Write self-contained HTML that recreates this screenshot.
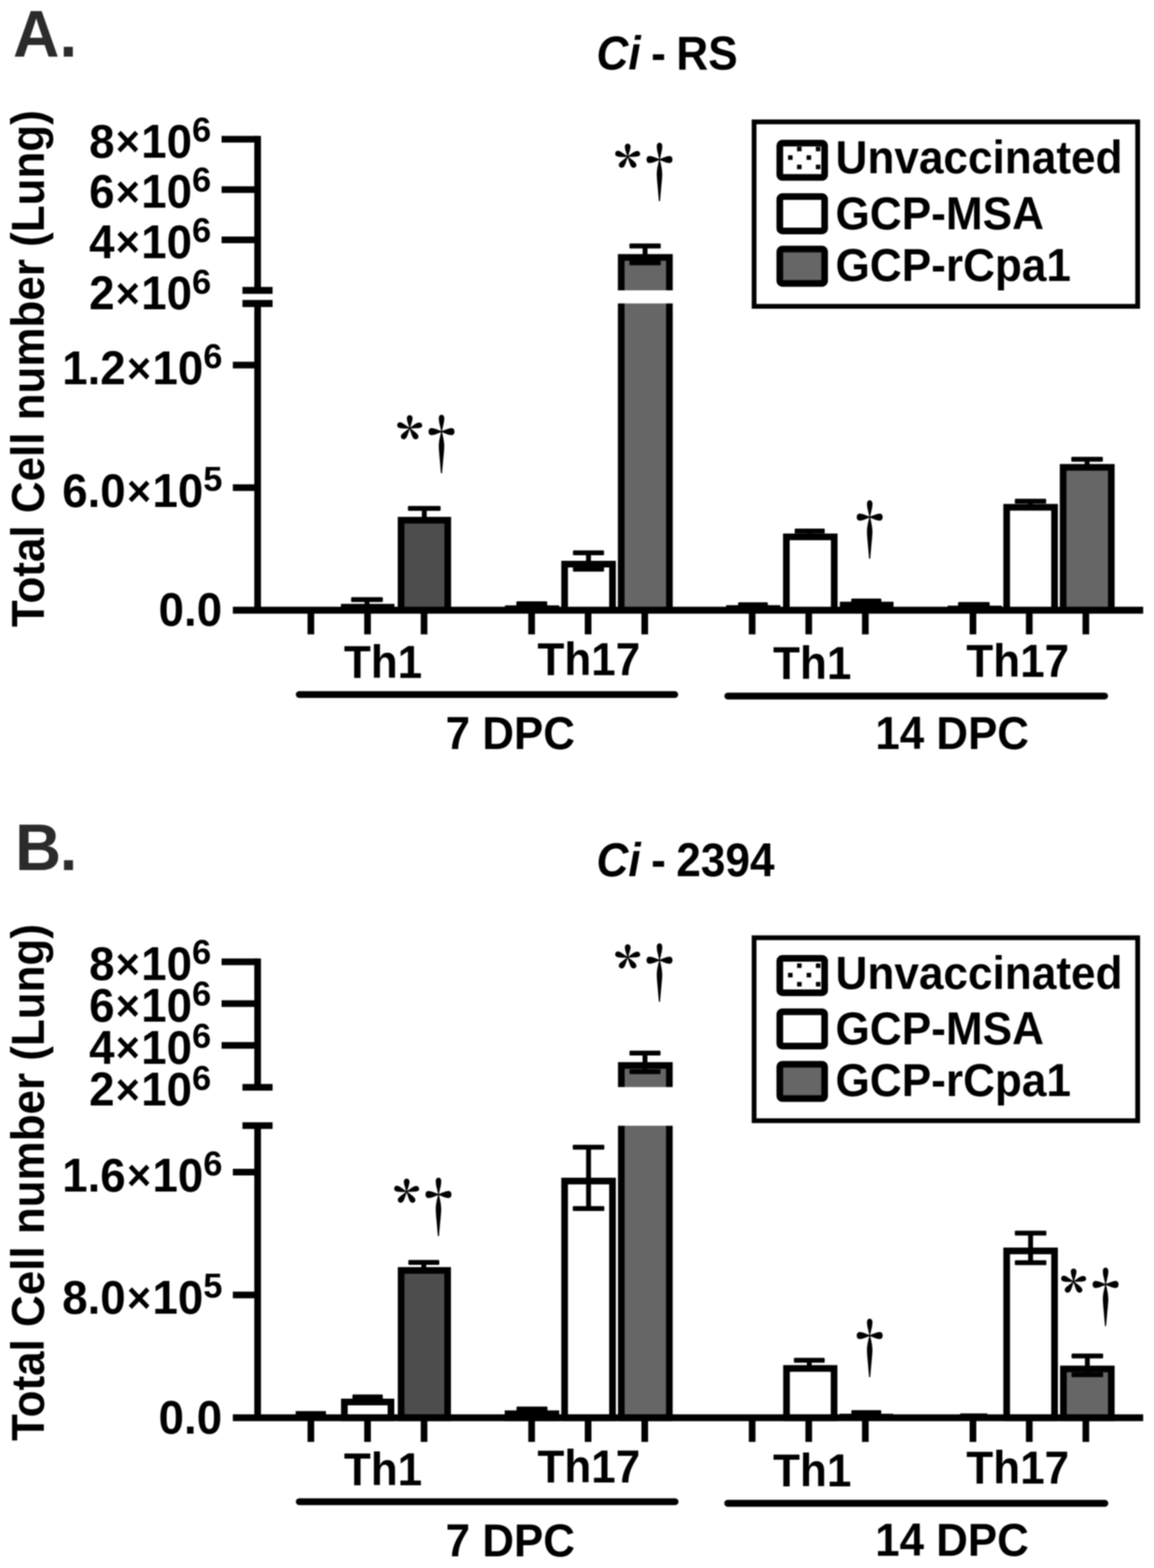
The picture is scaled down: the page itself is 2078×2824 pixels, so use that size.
<!DOCTYPE html>
<html lang="en">
<head>
<meta charset="utf-8">
<title>Total Cell number (Lung): Th1 and Th17, Ci - RS and Ci - 2394</title>
<style>
html,body{margin:0;padding:0;background:#fff;}
body{width:2078px;height:2824px;overflow:hidden;}
svg{display:block;filter:blur(0.8px);}
text{white-space:pre;fill:#000;}
text.b{font-family:"Liberation Sans",sans-serif;font-weight:bold;}
text.s{font-family:"Noto Serif CJK SC","Liberation Serif",serif;font-weight:900;}
text.d{font-weight:500;}
line{stroke:#000;}
</style>
</head>
<body>
<svg width="2078" height="2824" viewBox="0 0 2078 2824" role="img" aria-label="Bar charts of total Th1 and Th17 cell numbers in lung at 7 and 14 DPC">
<rect x="0" y="0" width="2078" height="2824" fill="#fff"/>
<g id="panel-a">
<text class="b" transform="translate(23.6 101.6) scale(1.01 1.04)" font-size="114.5" style="fill:#2b2b2b">A.</text>
<text class="b" transform="translate(1073.9 124.5) scale(1 1.07)" font-size="79.6" word-spacing="-3.2"><tspan font-style="italic">Ci</tspan> - RS</text>
<text class="b" transform="translate(78.6 664) rotate(-90) scale(1 1.05)" font-size="79.2" text-anchor="middle">Total Cell number (Lung)</text>
<rect x="632.3" y="1075.5" width="57.1" height="8.8" fill="#000" rx="1.5"/>
<rect x="656.45" y="1079.9" width="8.8" height="9.7" fill="#000"/>
<rect x="734.6" y="911.3" width="58.8" height="8.8" fill="#000" rx="1.5"/>
<rect x="759.6" y="915.7" width="8.8" height="17.2" fill="#000"/>
<rect x="929.8" y="1083" width="55.6" height="8.8" fill="#000" rx="1.5"/>
<rect x="953.2" y="1087.4" width="8.8" height="4.9" fill="#000"/>
<rect x="1329.1" y="1084.8" width="53.5" height="8.8" fill="#000" rx="1.5"/>
<rect x="1351.45" y="1089.2" width="8.8" height="2.7" fill="#000"/>
<rect x="1431" y="952" width="54.1" height="8.8" fill="#000" rx="1.5"/>
<rect x="1453.65" y="956.4" width="8.8" height="6.5" fill="#000"/>
<rect x="1532.8" y="1078" width="54.2" height="8.8" fill="#000" rx="1.5"/>
<rect x="1555.5" y="1082.4" width="8.8" height="3.3" fill="#000"/>
<rect x="1725.2" y="1084.2" width="56.9" height="8.8" fill="#000" rx="1.5"/>
<rect x="1749.25" y="1088.6" width="8.8" height="4.2" fill="#000"/>
<rect x="1827.4" y="898.2" width="56.4" height="8.8" fill="#000" rx="1.5"/>
<rect x="1851.2" y="902.6" width="8.8" height="7" fill="#000"/>
<rect x="1929.1" y="822.8" width="56.8" height="8.8" fill="#000" rx="1.5"/>
<rect x="1953.1" y="827.2" width="8.8" height="10.5" fill="#000"/>
<rect x="613.9" y="1087.6" width="96.3" height="11.4" fill="#000"/>
<rect x="722.2" y="936.9" width="84.1" height="162.1" fill="#4d4d4d" stroke="#000" stroke-width="12"/>
<rect x="909.3" y="1090.3" width="97.7" height="8.7" fill="#000"/>
<rect x="1016.7" y="1016" width="86.2" height="83" fill="#fff" stroke="#000" stroke-width="12"/>
<rect x="1118.6" y="463.6" width="86.8" height="635.4" fill="#666" stroke="#000" stroke-width="12"/>
<rect x="1307.5" y="1089.9" width="97.7" height="9.1" fill="#000"/>
<rect x="1416" y="966.9" width="86.2" height="132.1" fill="#fff" stroke="#000" stroke-width="12"/>
<rect x="1518.3" y="1089.7" width="84.7" height="9.3" fill="#666" stroke="#000" stroke-width="12"/>
<rect x="1706.4" y="1090.8" width="97.5" height="8.2" fill="#000"/>
<rect x="1812.7" y="913.6" width="86.2" height="185.4" fill="#fff" stroke="#000" stroke-width="12"/>
<rect x="1914.4" y="841.7" width="86.7" height="257.3" fill="#666" stroke="#000" stroke-width="12"/>
<rect x="1031.7" y="991.3" width="56" height="8.8" fill="#000" rx="1.5"/>
<rect x="1055.3" y="995.7" width="8.8" height="29.5" fill="#000"/>
<rect x="1031.7" y="1020.8" width="56" height="8.8" fill="#000" rx="1.5"/>
<rect x="1133.4" y="438.6" width="56.4" height="8.8" fill="#000" rx="1.5"/>
<rect x="1157.2" y="443" width="8.8" height="30.4" fill="#000"/>
<rect x="1133.4" y="469" width="56.4" height="8.8" fill="#000" rx="1.5"/>
<rect x="1100" y="522.9" width="130" height="23.6" fill="#fff"/>
<line x1="463.9" y1="244.8" x2="463.9" y2="523" stroke-width="12"/>
<line x1="463.9" y1="546.6" x2="463.9" y2="1099" stroke-width="12"/>
<line x1="399" y1="250.8" x2="463.9" y2="250.8" stroke-width="12"/>
<line x1="399" y1="341.4" x2="463.9" y2="341.4" stroke-width="12"/>
<line x1="399" y1="432.1" x2="463.9" y2="432.1" stroke-width="12"/>
<line x1="419.3" y1="657.4" x2="463.9" y2="657.4" stroke-width="12"/>
<line x1="419.3" y1="878.3" x2="463.9" y2="878.3" stroke-width="12"/>
<line x1="436.6" y1="523" x2="490.8" y2="523" stroke-width="12.6"/>
<line x1="436.6" y1="546.6" x2="490.8" y2="546.6" stroke-width="12.6"/>
<line x1="419.3" y1="1099" x2="2058.5" y2="1099" stroke-width="12.4"/>
<line x1="559.8" y1="1099" x2="559.8" y2="1142.5" stroke-width="12"/>
<line x1="661.8" y1="1099" x2="661.8" y2="1142.5" stroke-width="12"/>
<line x1="763.6" y1="1099" x2="763.6" y2="1142.5" stroke-width="12"/>
<line x1="957.3" y1="1099" x2="957.3" y2="1142.5" stroke-width="12"/>
<line x1="1059" y1="1099" x2="1059" y2="1142.5" stroke-width="12"/>
<line x1="1161" y1="1099" x2="1161" y2="1142.5" stroke-width="12"/>
<line x1="1354.4" y1="1099" x2="1354.4" y2="1142.5" stroke-width="12"/>
<line x1="1456.3" y1="1099" x2="1456.3" y2="1142.5" stroke-width="12"/>
<line x1="1558.2" y1="1099" x2="1558.2" y2="1142.5" stroke-width="12"/>
<line x1="1752" y1="1099" x2="1752" y2="1142.5" stroke-width="12"/>
<line x1="1853.4" y1="1099" x2="1853.4" y2="1142.5" stroke-width="12"/>
<line x1="1955.3" y1="1099" x2="1955.3" y2="1142.5" stroke-width="12"/>
<text class="b" transform="translate(380.2 283.5) scale(1 1.03)" font-size="82.3" text-anchor="end">8<tspan font-size="75" dx="2.1" dy="-2.4">×</tspan><tspan dx="2.1" dy="2.4">10</tspan><tspan font-size="62" dy="-28">6</tspan></text>
<text class="b" transform="translate(380.2 374.1) scale(1 1.03)" font-size="82.3" text-anchor="end">6<tspan font-size="75" dx="2.1" dy="-2.4">×</tspan><tspan dx="2.1" dy="2.4">10</tspan><tspan font-size="62" dy="-28">6</tspan></text>
<text class="b" transform="translate(380.2 464.8) scale(1 1.03)" font-size="82.3" text-anchor="end">4<tspan font-size="75" dx="2.1" dy="-2.4">×</tspan><tspan dx="2.1" dy="2.4">10</tspan><tspan font-size="62" dy="-28">6</tspan></text>
<text class="b" transform="translate(380.2 557.4) scale(1 1.03)" font-size="82.3" text-anchor="end">2<tspan font-size="75" dx="2.1" dy="-2.4">×</tspan><tspan dx="2.1" dy="2.4">10</tspan><tspan font-size="62" dy="-28">6</tspan></text>
<text class="b" transform="translate(400.4 692.3) scale(1 1.03)" font-size="82.3" text-anchor="end">1.2<tspan font-size="75" dx="2.1" dy="-2.4">×</tspan><tspan dx="2.1" dy="2.4">10</tspan><tspan font-size="62" dy="-28">6</tspan></text>
<text class="b" transform="translate(400.4 913.2) scale(1 1.03)" font-size="82.3" text-anchor="end">6.0<tspan font-size="75" dx="2.1" dy="-2.4">×</tspan><tspan dx="2.1" dy="2.4">10</tspan><tspan font-size="62" dy="-28">5</tspan></text>
<text class="b" transform="translate(400 1127.2) scale(1 1.03)" font-size="82.3" text-anchor="end">0.0</text>
<text class="b" transform="translate(619.21 1220.7) scale(1 1.06)" font-size="79.3">Th1</text>
<text class="b" transform="translate(967.71 1216) scale(1 1.06)" font-size="79.3">Th17</text>
<text class="b" transform="translate(1392.01 1222.9) scale(1 1.06)" font-size="79.3">Th1</text>
<text class="b" transform="translate(1740.01 1218.5) scale(1 1.06)" font-size="79.3">Th17</text>
<line x1="538.9" y1="1250.9" x2="1215" y2="1250.9" stroke-width="12.4" stroke-linecap="round"/>
<line x1="1310.6" y1="1253.6" x2="1989" y2="1253.6" stroke-width="12.4" stroke-linecap="round"/>
<text class="b" transform="translate(802.61 1348.9) scale(1 1.05)" font-size="79">7 DPC</text>
<text class="b" transform="translate(1576.32 1348.6) scale(1 1.05)" font-size="79">14 DPC</text>
<text class="s d" transform="translate(747.55 843.75) scale(0.95 1.21)" font-size="100">†</text>
<text class="s" transform="translate(713.7 830.41) scale(0.98 0.98)" font-size="100">*</text>
<text class="s d" transform="translate(1140.05 354.35) scale(0.95 1.21)" font-size="100">†</text>
<text class="s" transform="translate(1106.2 341.01) scale(0.98 0.98)" font-size="100">*</text>
<text class="s d" transform="translate(1518.55 998.35) scale(0.95 1.21)" font-size="100">†</text>
<rect x="1357.9" y="219.5" width="690.7" height="332.2" fill="#fff" stroke="#000" stroke-width="8.6"/>
<rect x="1404.2" y="257.8" width="80.7" height="61.8" fill="#fff" stroke="#000" stroke-width="12" rx="4.5"/>
<rect x="1435.2" y="264.3" width="8.2" height="8.2" fill="#000"/>
<rect x="1469.1" y="264.3" width="8.2" height="8.2" fill="#000"/>
<rect x="1419" y="279.7" width="8.2" height="8.2" fill="#000"/>
<rect x="1452.4" y="279.7" width="8.2" height="8.2" fill="#000"/>
<rect x="1435.2" y="296.6" width="8.2" height="8.2" fill="#000"/>
<rect x="1469.1" y="296.6" width="8.2" height="8.2" fill="#000"/>
<text class="b" transform="translate(1504.5 312.3) scale(1 1.06)" font-size="79.5">Unvaccinated</text>
<rect x="1404.2" y="354.1" width="80.7" height="61.8" fill="#fff" stroke="#000" stroke-width="12" rx="4.5"/>
<text class="b" transform="translate(1504.5 412.8) scale(1 1.06)" font-size="79.5">GCP-MSA</text>
<rect x="1404.2" y="448.6" width="80.7" height="61.8" fill="#666" stroke="#000" stroke-width="12" rx="4.5"/>
<text class="b" transform="translate(1504.5 505.9) scale(1 1.06)" font-size="79.5">GCP-rCpa1</text>
</g>
<g id="panel-b">
<text class="b" transform="translate(27.3 1567.3) scale(1 1.04)" font-size="114.5" style="fill:#2b2b2b">B<tspan dx="-2.5">.</tspan></text>
<text class="b" transform="translate(1073.9 1578.3) scale(1 1.07)" font-size="79.6" word-spacing="-3.2"><tspan font-style="italic">Ci</tspan> - 2394</text>
<text class="b" transform="translate(78.6 2129.7) rotate(-90) scale(1 1.05)" font-size="79.2" text-anchor="middle">Total Cell number (Lung)</text>
<rect x="634.6" y="2511.4" width="54.7" height="8.8" fill="#000" rx="1.5"/>
<rect x="657.55" y="2515.8" width="8.8" height="5.2" fill="#000"/>
<rect x="735.3" y="2269.3" width="55.7" height="8.8" fill="#000" rx="1.5"/>
<rect x="758.75" y="2273.7" width="8.8" height="10.4" fill="#000"/>
<rect x="930.1" y="2533.3" width="55.7" height="8.8" fill="#000" rx="1.5"/>
<rect x="953.55" y="2537.7" width="8.8" height="4.5" fill="#000"/>
<rect x="1429.5" y="2445.4" width="55.5" height="8.8" fill="#000" rx="1.5"/>
<rect x="1452.85" y="2449.8" width="8.8" height="10.8" fill="#000"/>
<rect x="1533" y="2539.7" width="53.8" height="8.8" fill="#000" rx="1.5"/>
<rect x="1555.5" y="2544.1" width="8.8" height="4.1" fill="#000"/>
<rect x="532.4" y="2541.4" width="54.6" height="12" fill="#000"/>
<rect x="620.1" y="2525" width="83.9" height="28.4" fill="#fff" stroke="#000" stroke-width="12"/>
<rect x="722.3" y="2288.1" width="83.7" height="265.3" fill="#4d4d4d" stroke="#000" stroke-width="12"/>
<rect x="914.8" y="2546.2" width="86.2" height="7.2" fill="#fff" stroke="#000" stroke-width="12"/>
<rect x="1016.7" y="2127.1" width="86.2" height="426.3" fill="#fff" stroke="#000" stroke-width="12"/>
<rect x="1118.8" y="1918.9" width="86.5" height="634.5" fill="#666" stroke="#000" stroke-width="12"/>
<rect x="1416.3" y="2464.6" width="85.6" height="88.8" fill="#fff" stroke="#000" stroke-width="12"/>
<rect x="1511.8" y="2546.2" width="96.4" height="7.2" fill="#000"/>
<rect x="1729" y="2545.6" width="49" height="7.8" fill="#000"/>
<rect x="1812.7" y="2252.9" width="86.2" height="300.5" fill="#fff" stroke="#000" stroke-width="12"/>
<rect x="1914.9" y="2465.5" width="86.2" height="87.9" fill="#666" stroke="#000" stroke-width="12"/>
<rect x="1031.4" y="2061.8" width="56.8" height="8.8" fill="#000" rx="1.5"/>
<rect x="1055.4" y="2066.2" width="8.8" height="110.5" fill="#000"/>
<rect x="1031.4" y="2172.3" width="56.8" height="8.8" fill="#000" rx="1.5"/>
<rect x="1133.5" y="1892.2" width="55.9" height="8.8" fill="#000" rx="1.5"/>
<rect x="1157.05" y="1896.6" width="8.8" height="33.6" fill="#000"/>
<rect x="1133.5" y="1925.8" width="55.9" height="8.8" fill="#000" rx="1.5"/>
<rect x="1827.4" y="2216.5" width="56.8" height="8.8" fill="#000" rx="1.5"/>
<rect x="1851.4" y="2220.9" width="8.8" height="53.3" fill="#000"/>
<rect x="1827.4" y="2269.8" width="56.8" height="8.8" fill="#000" rx="1.5"/>
<rect x="1929.6" y="2437.8" width="56.8" height="8.8" fill="#000" rx="1.5"/>
<rect x="1953.6" y="2442.2" width="8.8" height="33.6" fill="#000"/>
<rect x="1929.6" y="2471.4" width="56.8" height="8.8" fill="#000" rx="1.5"/>
<rect x="1100" y="1957.8" width="130" height="69.7" fill="#fff"/>
<line x1="463.9" y1="1726.3" x2="463.9" y2="1958.2" stroke-width="12"/>
<line x1="463.9" y1="2027.2" x2="463.9" y2="2553.4" stroke-width="12"/>
<line x1="399" y1="1732.3" x2="463.9" y2="1732.3" stroke-width="12"/>
<line x1="399" y1="1807.6" x2="463.9" y2="1807.6" stroke-width="12"/>
<line x1="399" y1="1882.7" x2="463.9" y2="1882.7" stroke-width="12"/>
<line x1="419.3" y1="2111" x2="463.9" y2="2111" stroke-width="12"/>
<line x1="419.3" y1="2332.2" x2="463.9" y2="2332.2" stroke-width="12"/>
<line x1="436.6" y1="1958.2" x2="490.8" y2="1958.2" stroke-width="12"/>
<line x1="436.6" y1="2027.2" x2="490.8" y2="2027.2" stroke-width="12"/>
<line x1="419.3" y1="2553.4" x2="2058.5" y2="2553.4" stroke-width="12.4"/>
<line x1="559.8" y1="2553.4" x2="559.8" y2="2596.9" stroke-width="12"/>
<line x1="661.8" y1="2553.4" x2="661.8" y2="2596.9" stroke-width="12"/>
<line x1="763.6" y1="2553.4" x2="763.6" y2="2596.9" stroke-width="12"/>
<line x1="957.3" y1="2553.4" x2="957.3" y2="2596.9" stroke-width="12"/>
<line x1="1059" y1="2553.4" x2="1059" y2="2596.9" stroke-width="12"/>
<line x1="1161" y1="2553.4" x2="1161" y2="2596.9" stroke-width="12"/>
<line x1="1354.4" y1="2553.4" x2="1354.4" y2="2596.9" stroke-width="12"/>
<line x1="1456.3" y1="2553.4" x2="1456.3" y2="2596.9" stroke-width="12"/>
<line x1="1558.2" y1="2553.4" x2="1558.2" y2="2596.9" stroke-width="12"/>
<line x1="1752" y1="2553.4" x2="1752" y2="2596.9" stroke-width="12"/>
<line x1="1853.4" y1="2553.4" x2="1853.4" y2="2596.9" stroke-width="12"/>
<line x1="1955.3" y1="2553.4" x2="1955.3" y2="2596.9" stroke-width="12"/>
<text class="b" transform="translate(380.2 1765) scale(1 1.03)" font-size="82.3" text-anchor="end">8<tspan font-size="75" dx="2.1" dy="-2.4">×</tspan><tspan dx="2.1" dy="2.4">10</tspan><tspan font-size="62" dy="-28">6</tspan></text>
<text class="b" transform="translate(380.2 1840.3) scale(1 1.03)" font-size="82.3" text-anchor="end">6<tspan font-size="75" dx="2.1" dy="-2.4">×</tspan><tspan dx="2.1" dy="2.4">10</tspan><tspan font-size="62" dy="-28">6</tspan></text>
<text class="b" transform="translate(380.2 1915.6) scale(1 1.03)" font-size="82.3" text-anchor="end">4<tspan font-size="75" dx="2.1" dy="-2.4">×</tspan><tspan dx="2.1" dy="2.4">10</tspan><tspan font-size="62" dy="-28">6</tspan></text>
<text class="b" transform="translate(380.2 1991.4) scale(1 1.03)" font-size="82.3" text-anchor="end">2<tspan font-size="75" dx="2.1" dy="-2.4">×</tspan><tspan dx="2.1" dy="2.4">10</tspan><tspan font-size="62" dy="-28">6</tspan></text>
<text class="b" transform="translate(400.4 2145.9) scale(1 1.03)" font-size="82.3" text-anchor="end">1.6<tspan font-size="75" dx="2.1" dy="-2.4">×</tspan><tspan dx="2.1" dy="2.4">10</tspan><tspan font-size="62" dy="-28">6</tspan></text>
<text class="b" transform="translate(400.4 2366.3) scale(1 1.03)" font-size="82.3" text-anchor="end">8.0<tspan font-size="75" dx="2.1" dy="-2.4">×</tspan><tspan dx="2.1" dy="2.4">10</tspan><tspan font-size="62" dy="-28">5</tspan></text>
<text class="b" transform="translate(400 2582.4) scale(1 1.03)" font-size="82.3" text-anchor="end">0.0</text>
<text class="b" transform="translate(619.21 2674.5) scale(1 1.06)" font-size="79.3">Th1</text>
<text class="b" transform="translate(967.71 2669.8) scale(1 1.06)" font-size="79.3">Th17</text>
<text class="b" transform="translate(1392.01 2676.7) scale(1 1.06)" font-size="79.3">Th1</text>
<text class="b" transform="translate(1740.01 2672.3) scale(1 1.06)" font-size="79.3">Th17</text>
<line x1="538.9" y1="2704.6" x2="1215.6" y2="2704.6" stroke-width="12.4" stroke-linecap="round"/>
<line x1="1310.4" y1="2707.5" x2="1989.5" y2="2707.5" stroke-width="12.4" stroke-linecap="round"/>
<text class="b" transform="translate(802.61 2802.6) scale(1 1.05)" font-size="79">7 DPC</text>
<text class="b" transform="translate(1576.02 2802.3) scale(1 1.05)" font-size="79">14 DPC</text>
<text class="s d" transform="translate(742.05 2217.95) scale(0.95 1.21)" font-size="100">†</text>
<text class="s" transform="translate(708.2 2204.61) scale(0.98 0.98)" font-size="100">*</text>
<text class="s d" transform="translate(1140.05 1796.45) scale(0.95 1.21)" font-size="100">†</text>
<text class="s" transform="translate(1106.2 1783.11) scale(0.98 0.98)" font-size="100">*</text>
<text class="s d" transform="translate(1518.45 2471.85) scale(0.95 1.21)" font-size="100">†</text>
<text class="s d" transform="translate(1943.15 2380.35) scale(0.95 1.21)" font-size="100">†</text>
<text class="s" transform="translate(1909.3 2367.01) scale(0.98 0.98)" font-size="100">*</text>
<rect x="1357.9" y="1688.9" width="690.7" height="329.5" fill="#fff" stroke="#000" stroke-width="8.6"/>
<rect x="1404.2" y="1726.1" width="80.7" height="61.8" fill="#fff" stroke="#000" stroke-width="12" rx="4.5"/>
<rect x="1435.3" y="1735.1" width="8.2" height="8.2" fill="#000"/>
<rect x="1469.2" y="1735.1" width="8.2" height="8.2" fill="#000"/>
<rect x="1419" y="1752.1" width="8.2" height="8.2" fill="#000"/>
<rect x="1452.5" y="1752.1" width="8.2" height="8.2" fill="#000"/>
<rect x="1435.3" y="1768.5" width="8.2" height="8.2" fill="#000"/>
<rect x="1469.2" y="1768.5" width="8.2" height="8.2" fill="#000"/>
<text class="b" transform="translate(1504.5 1781.1) scale(1 1.06)" font-size="79.5">Unvaccinated</text>
<rect x="1404.2" y="1822.2" width="80.7" height="61.8" fill="#fff" stroke="#000" stroke-width="12" rx="4.5"/>
<text class="b" transform="translate(1504.5 1881.1) scale(1 1.06)" font-size="79.5">GCP-MSA</text>
<rect x="1404.2" y="1916.7" width="80.7" height="61.8" fill="#666" stroke="#000" stroke-width="12" rx="4.5"/>
<text class="b" transform="translate(1504.5 1974.3) scale(1 1.06)" font-size="79.5">GCP-rCpa1</text>
</g>
</svg>
</body>
</html>
